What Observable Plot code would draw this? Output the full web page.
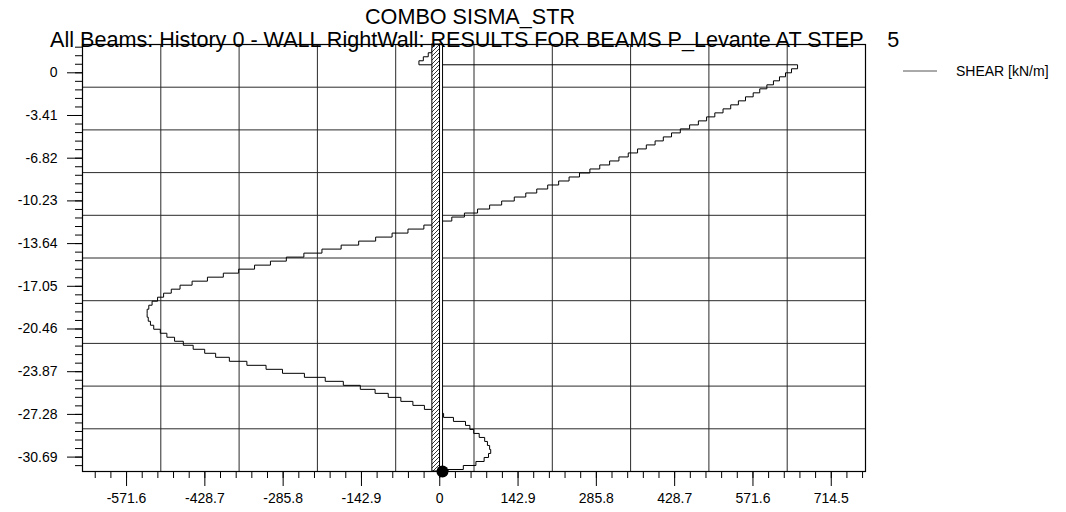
<!DOCTYPE html>
<html>
<head>
<meta charset="utf-8">
<script src="https://cdn.jsdelivr.net/npm/d3@7"></script>
<script src="https://cdn.jsdelivr.net/npm/@observablehq/plot@0.6"></script>
<style>
  html, body { margin: 0; padding: 0; background: #ffffff; }
  #chart { width: 1066px; height: 512px; }
</style>
</head>
<body>
<div id="chart"></div>
<script>
// ---- texts ----
const titleText = "COMBO SISMA_STR";
const subtitleText = "All Beams: History 0 - WALL RightWall: RESULTS FOR BEAMS P_Levante AT STEP    5";
const seriesName = "SHEAR [kN/m]";

// ---- axis ticks ----
const xTicks = [-571.6, -428.7, -285.8, -142.9, 0, 142.9, 285.8, 428.7, 571.6, 714.5];
const xTickLabels = ["-571.6", "-428.7", "-285.8", "-142.9", "0", "142.9", "285.8", "428.7", "571.6", "714.5"];
const yTicks = [0, -3.41, -6.82, -10.23, -13.64, -17.05, -20.46, -23.87, -27.28, -30.69];
const yTickLabels = ["0", "-3.41", "-6.82", "-10.23", "-13.64", "-17.05", "-20.46", "-23.87", "-27.28", "-30.69"];
const xMinorStep = 28.58;
const yMinorStep = 0.682;

// ---- domains ----
const xDomain = [-652, 777];
const yDomain = [-31.84, 2.26];

// ---- wall ----
const wallTop = 2.26;
const wallBottom = -31.84;
const wallHatchX = [-13.5, 0.5];
const wallFaceX = [0.5, 6];
const supportX = [5];
const supportY = [-31.84];

// ---- shear profile: one value per beam element, from top of wall downward ----
const elementTop = 2.24;
const elementLength = 0.32;
const shear = [
  -7, -14, -21, -30, -38,
  653, 642, 631, 620, 609, 597, 584, 572, 558, 545, 531, 517, 502, 487, 472, 456, 439, 423,
  408, 393, 377, 361, 344, 327, 310, 292, 274, 255, 236, 217, 197, 177, 157, 136,
  113, 91, 69, 45, 22, -4, -29, -58, -87, -117, -148, -180, -215,
  -248, -280, -309, -338, -367, -395, -424, -452, -474, -490, -504, -515, -525, -531, -534, -534, -532, -528, -522, -510,
  -498, -484, -468, -450, -429, -409, -384, -352, -317, -287, -247, -209, -176, -145, -118, -94, -71, -49, -28, -7,
  7, 25, 47, 55, 62, 72, 82, 87, 91, 93, 89, 81, 66, 43, 15
];

// ---- derived tables ----
const profile = shear.map((v, i) => ({shear: v, depth: elementTop - i * elementLength}));
profile.push({shear: shear[shear.length - 1], depth: wallBottom});

const xLab = new Map(xTicks.map((t, i) => [t, xTickLabels[i]]));
const yLab = new Map(yTicks.map((t, i) => [t, yTickLabels[i]]));

const xMinor = d3.range(Math.ceil(xDomain[0] / xMinorStep), Math.floor(xDomain[1] / xMinorStep) + 1).map(k => k * xMinorStep);
const yMinor = d3.range(Math.ceil(yDomain[0] / yMinorStep), Math.floor(yDomain[1] / yMinorStep) + 1).map(k => k * yMinorStep);

const xGrid = d3.range(1, 10).map(i => xDomain[0] + i * (xDomain[1] - xDomain[0]) / 10);
const yGrid = d3.range(1, 10).map(i => yDomain[0] + i * (yDomain[1] - yDomain[0]) / 10);

const wallHatch = [{x1: wallHatchX[0], x2: wallHatchX[1], y1: wallBottom, y2: wallTop}];
const wallFace = [{x1: wallFaceX[0], x2: wallFaceX[1], y1: wallBottom, y2: wallTop}];
const support = supportX.map((x, i) => ({x, y: supportY[i]}));

const fontMain = "'Liberation Sans', Arial, Helvetica, sans-serif";

const svg = Plot.plot({
  width: 1066,
  height: 512,
  marginLeft: 82,
  marginRight: 201,
  marginTop: 44,
  marginBottom: 41,
  style: {fontFamily: fontMain, fontSize: "14px", background: "#ffffff", color: "#000000", overflow: "visible"},
  x: {domain: xDomain},
  y: {domain: yDomain},
  marks: [
    Plot.gridX({ticks: xGrid, stroke: "#2a2a2a", strokeOpacity: 1, strokeWidth: 1}),
    Plot.gridY({ticks: yGrid, stroke: "#2a2a2a", strokeOpacity: 1, strokeWidth: 1}),
    Plot.line(profile, {x: "shear", y: "depth", curve: "step-before", stroke: "#000000", strokeWidth: 1}),
    Plot.rect(wallHatch, {x1: "x1", x2: "x2", y1: "y1", y2: "y2", fill: "url(#wallhatch)", stroke: "#000000", strokeWidth: 1}),
    Plot.rect(wallFace, {x1: "x1", x2: "x2", y1: "y1", y2: "y2", fill: "#ffffff", stroke: "#000000", strokeWidth: 1}),
    Plot.frame({stroke: "#000000", strokeWidth: 1.2}),
    Plot.axisX({ticks: xMinor, anchor: "bottom", tickSize: 7, tickFormat: () => "", label: null}),
    Plot.axisX({ticks: xTicks, anchor: "bottom", tickSize: 15, tickPadding: 7, tickFormat: d => xLab.get(d), label: null, fontSize: 14}),
    Plot.axisY({ticks: yMinor, anchor: "left", tickSize: 7, tickFormat: () => "", label: null}),
    Plot.axisY({ticks: yTicks, anchor: "left", tickSize: 15, tickPadding: 10, tickFormat: d => yLab.get(d), label: null, fontSize: 14}),
    Plot.dot(support, {x: "x", y: "y", r: 6, fill: "#000000"})
  ]
});

// hatch pattern for the wall section
const root = d3.select(svg);
const defs = root.insert("defs", ":first-child");
const pat = defs.append("pattern")
  .attr("id", "wallhatch")
  .attr("patternUnits", "userSpaceOnUse")
  .attr("width", 4)
  .attr("height", 4);
pat.append("rect").attr("width", 4).attr("height", 4).attr("fill", "#ffffff");
pat.append("path")
  .attr("d", "M-1,1 L1,-1 M0,4 L4,0 M3,5 L5,3")
  .attr("stroke", "#000000")
  .attr("stroke-width", 0.8);

// titles
root.append("text")
  .attr("x", 470).attr("y", 24)
  .attr("text-anchor", "middle")
  .attr("font-family", fontMain)
  .attr("font-size", 21.6)
  .attr("fill", "#000000")
  .text(titleText);
root.append("text")
  .attr("x", 50).attr("y", 47)
  .attr("text-anchor", "start")
  .attr("font-family", fontMain)
  .attr("font-size", 21.6)
  .attr("fill", "#000000")
  .style("white-space", "pre")
  .attr("xml:space", "preserve")
  .text(subtitleText);

// legend
const legend = root.append("g");
legend.append("line")
  .attr("x1", 903).attr("x2", 937).attr("y1", 71).attr("y2", 71)
  .attr("stroke", "#555555").attr("stroke-width", 1);
legend.append("text")
  .attr("x", 956).attr("y", 71)
  .attr("dy", "0.35em")
  .attr("text-anchor", "start")
  .attr("font-family", fontMain)
  .attr("font-size", 14)
  .attr("fill", "#000000")
  .text(seriesName);

document.getElementById("chart").appendChild(svg);
</script>
</body>
</html>
